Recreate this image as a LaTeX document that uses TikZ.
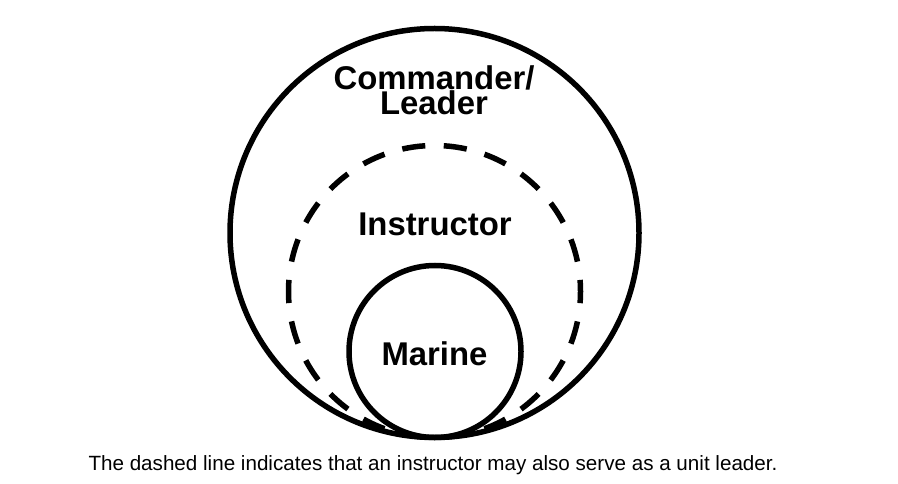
\documentclass[tikz,border=0pt]{standalone}
\usepackage{fontspec}
\setmainfont{Liberation Sans}
\begin{document}
\begin{tikzpicture}[x=1bp,y=-1bp,
  ring/.style={circle, draw=black, line width=5.5bp, inner sep=0pt, outer sep=0pt},
  dashring/.style={ring, dash pattern=on 23.2bp off 18.5bp, dash phase=11.6bp},
  biglabel/.style={font=\bfseries\fontsize{33}{23.5}\selectfont, inner sep=0pt, align=center},
  caption/.style={font=\fontsize{20.7}{24}\selectfont, inner sep=0pt}]
\useasboundingbox[fill=white] (0,0) rectangle (898,484);
\node[ring, minimum size=409bp] (commander) at (434.5,233) {};
\node[dashring, minimum size=292bp] (instructor) at (434.5,291.5) {};
\node[ring, minimum size=172bp] (marine) at (435,351.5) {};
\node[biglabel, anchor=base] (commanderlabel) at (434,115) {Commander/\\Leader};
\node[biglabel, anchor=base] (instructorlabel) at (435,236) {Instructor};
\node[biglabel, anchor=base] (marinelabel) at (434.5,365) {Marine};
\node[caption, anchor=base] (captionlabel) at (433,470) {The dashed line indicates that an instructor may also serve as a unit leader.};
\end{tikzpicture}
\end{document}
